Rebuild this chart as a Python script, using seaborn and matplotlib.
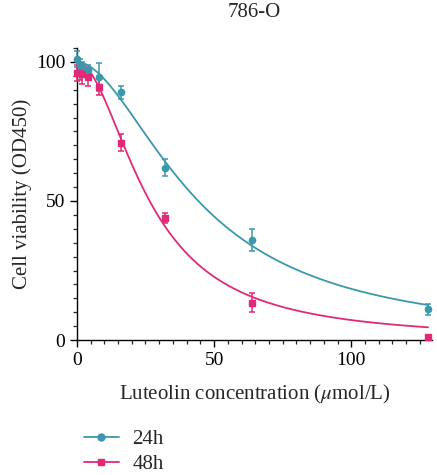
import matplotlib
matplotlib.use("Agg")
import matplotlib.pyplot as plt
from matplotlib.lines import Line2D
from matplotlib.ticker import MultipleLocator
import numpy as np
import pandas as pd
import seaborn as sns

# valeurs
conc = [0, 1, 2, 4, 8, 16, 32, 64, 128]
v24 = [101, 99, 98, 97, 94.5, 89, 62, 36, 11]
e24 = [3, 2, 2, 2, 5, 2.5, 3, 4, 2]
v48 = [96, 96, 95.5, 94.5, 91, 71, 44, 13.5, 1]
e48 = [3, 2.5, 3.5, 3, 3, 3, 1.8, 3.5, 1]

teal = "#3a98ad"
pink = "#e02a78"


# ajustement de Hill (haut = 100, bas = 0), recherche sur grille
def fit_hill(x, y):
    x = np.asarray(x, float)
    y = np.asarray(y, float)
    best = None
    for ic50 in np.linspace(5, 120, 461):
        for h in np.linspace(0.5, 4, 141):
            pred = 100.0 / (1.0 + (x / ic50) ** h)
            err = np.sum((pred - y) ** 2)
            if best is None or err < best[0]:
                best = (err, ic50, h)
    _, ic50, h = best
    return lambda t: 100.0 / (1.0 + (t / ic50) ** h)


xs = np.linspace(0, 128, 300)
f24 = fit_hill(conc, v24)
f48 = fit_hill(conc, v48)
curves = pd.concat([
    pd.DataFrame({"x": xs, "y": f24(xs), "grp": "24h"}),
    pd.DataFrame({"x": xs, "y": f48(xs), "grp": "48h"}),
])

sns.set_style("ticks")
plt.rcParams["font.family"] = ["Liberation Serif", "DejaVu Serif"]
plt.rcParams["mathtext.fontset"] = "stix"

fig = plt.figure(figsize=(4.37, 4.75), dpi=100)
ax = fig.add_axes([0.176, 0.284, 0.813, 0.615])

sns.lineplot(data=curves, x="x", y="y", hue="grp", palette={"24h": teal, "48h": pink},
             linewidth=1.3, legend=False, ax=ax)

ax.errorbar(conc, v24, yerr=e24, fmt="o", color=teal, ms=4.5, capsize=2.5,
            elinewidth=1.1, capthick=1.1, clip_on=False, zorder=3)
ax.errorbar(conc, v48, yerr=e48, fmt="s", color=pink, ms=4.5, capsize=2.5,
            elinewidth=1.1, capthick=1.1, clip_on=False, zorder=3)

ax.set_xlim(0, 129.5)
ax.set_ylim(0, 105)
ax.xaxis.set_major_locator(MultipleLocator(50))
ax.xaxis.set_minor_locator(MultipleLocator(5))
ax.yaxis.set_major_locator(MultipleLocator(50))
ax.yaxis.set_minor_locator(MultipleLocator(5))
ax.tick_params(which="major", length=5, width=1, labelsize=14, colors="black")
ax.tick_params(which="minor", length=3, width=0.9)
for s in ["top", "right"]:
    ax.spines[s].set_visible(False)
for s in ["left", "bottom"]:
    ax.spines[s].set_color("black")
    ax.spines[s].set_linewidth(1)

ax.set_xlabel(r"Luteolin concentration ($\mu$mol/L)", fontsize=15, labelpad=10)
ax.set_ylabel("Cell viability (OD450)", fontsize=15, labelpad=3)
ax.set_title("786-O", fontsize=15, pad=22)

handles = [
    Line2D([], [], color=teal, marker="o", ms=5, lw=1.3),
    Line2D([], [], color=pink, marker="s", ms=5, lw=1.3),
]
fig.legend(handles, ["24h", "48h"], loc="upper left", bbox_to_anchor=(0.15, 0.135),
           frameon=False, fontsize=15, handlelength=1.65, handletextpad=0.65,
           labelspacing=0.25)

fig.savefig("out.png", dpi=100)
